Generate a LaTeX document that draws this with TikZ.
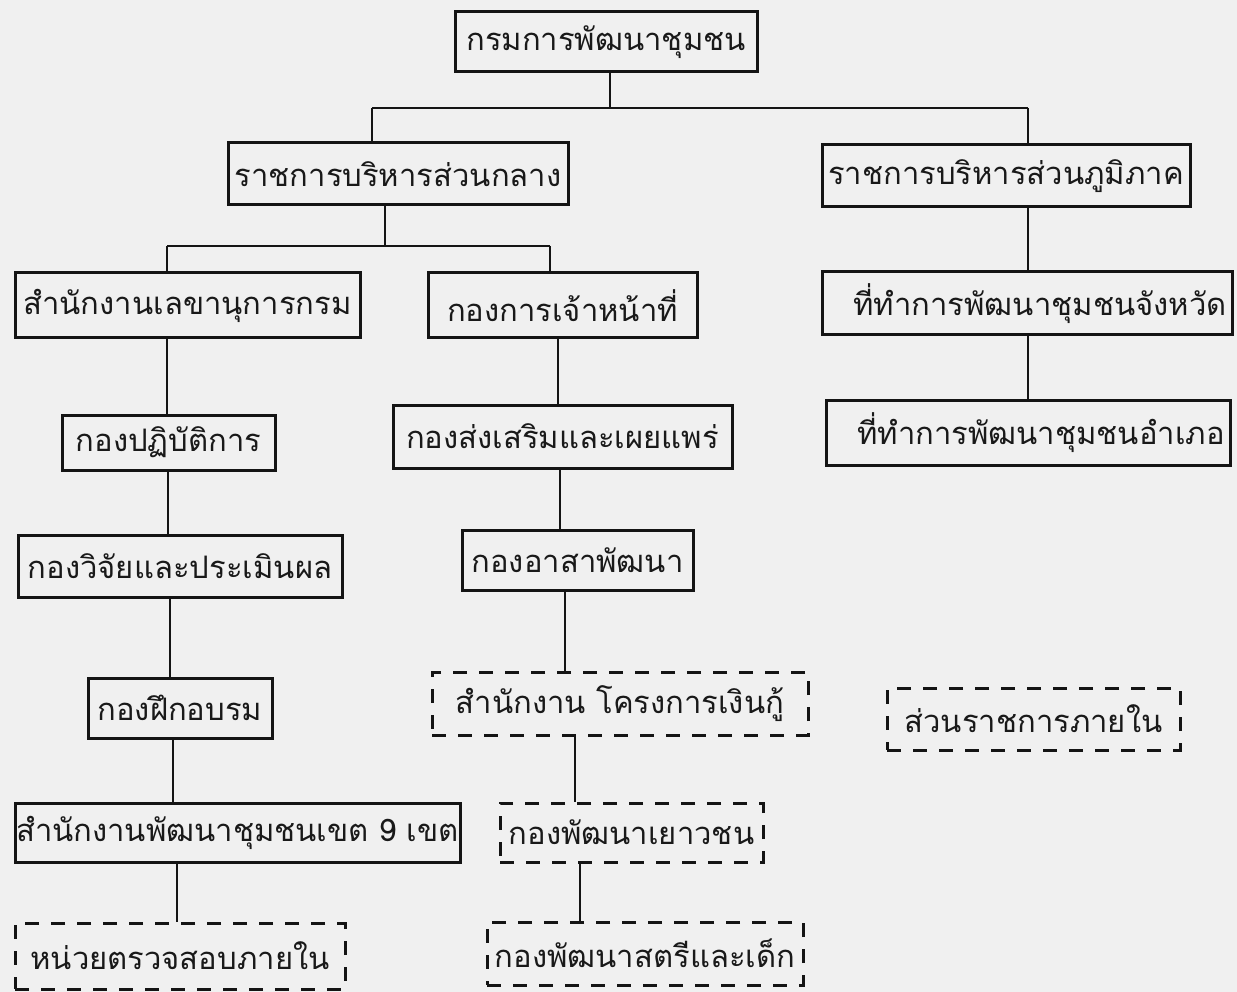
\documentclass[tikz,border=0pt]{standalone}
\usepackage{fontspec}
\newfontfamily\thaifont[Script=Thai]{Loma}
\begin{document}
\begin{tikzpicture}[x=1pt,y=-1pt,
  box/.style={draw=black!92, line width=3pt, inner sep=0pt, text=black!90,
    font=\thaifont\fontsize{31}{37}\selectfont},
  dbox/.style={box, dash pattern=on 14pt off 12pt},
  conn/.style={draw=black!92, line width=2.8pt}]
\fill[black!6] (0,0) rectangle (1237,992);
\useasboundingbox (0,0) rectangle (1237,992);

% level 0
\node[box, minimum width=302pt, minimum height=60pt] (top) at (606,42) {กรมการพัฒนาชุมชน};
% level 1
\node[box, minimum width=340pt, minimum height=62pt] (central) at (398,174) {ราชการบริหารส่วนกลาง};
\node[box, minimum width=368pt, minimum height=62pt] (regional) at (1006,176) {ราชการบริหารส่วนภูมิภาค};
% level 2
\node[box, minimum width=345pt, minimum height=65pt] (sec) at (187.5,305.5) {สำนักงานเลขานุการกรม};
\node[box, minimum width=269pt, minimum height=65pt] (pers) at (562.5,305.5) {กองการเจ้าหน้าที่};
\node[box, minimum width=410pt, minimum height=63pt] (prov) at (1027,303.5) {\hspace{26pt}ที่ทำการพัฒนาชุมชนจังหวัด};
% level 3
\node[box, minimum width=213pt, minimum height=55pt] (ops) at (168.5,442.5) {กองปฏิบัติการ};
\node[box, minimum width=339pt, minimum height=63pt] (prom) at (562.5,436.5) {กองส่งเสริมและเผยแพร่};
\node[box, minimum width=404pt, minimum height=65pt] (dist) at (1028,432.5) {\hspace{26pt}ที่ทำการพัฒนาชุมชนอำเภอ};
% level 4
\node[box, minimum width=324pt, minimum height=62pt] (res) at (180,566) {กองวิจัยและประเมินผล};
\node[box, minimum width=231pt, minimum height=60pt] (vol) at (577.5,560) {กองอาสาพัฒนา};
% level 5
\node[box, minimum width=184pt, minimum height=60pt] (train) at (180,708) {กองฝึกอบรม};
\node[dbox, minimum width=376pt, minimum height=63pt] (loan) at (620,703.5) {สำนักงาน โครงการเงินกู้};
\node[dbox, minimum width=293pt, minimum height=62pt] (internal) at (1033.5,719) {ส่วนราชการภายใน};
% level 6
\node[box, minimum width=445pt, minimum height=59pt] (reg9) at (237.5,832.5) {สำนักงานพัฒนาชุมชนเขต 9 เขต};
\node[dbox, minimum width=263pt, minimum height=59pt] (youth) at (631.5,832.5) {กองพัฒนาเยาวชน};
% level 7
\node[dbox, minimum width=330pt, minimum height=66pt] (audit) at (180,956) {หน่วยตรวจสอบภายใน};
\node[dbox, minimum width=316pt, minimum height=63pt] (women) at (645,953.5) {กองพัฒนาสตรีและเด็ก};

% junctions
\coordinate (j1) at (610,108);
\coordinate (jL) at (372,108);
\coordinate (jR) at (1028,108);
\coordinate (j2) at (385,246);
\coordinate (j2L) at (167,246);
\coordinate (j2R) at (550,246);
% column guides
\coordinate (cL1) at (167,0);
\coordinate (cL2) at (168,0);
\coordinate (cL3) at (170,0);
\coordinate (cL4) at (173,0);
\coordinate (cL5) at (177,0);
\coordinate (cM1) at (558,0);
\coordinate (cM2) at (560,0);
\coordinate (cM3) at (565,0);
\coordinate (cM4) at (575,0);
\coordinate (cM5) at (580,0);
\coordinate (cR) at (1028,0);

\draw[conn] (j1 |- top.south) -- (j1);
\draw[conn] (jL) -- (jR);
\draw[conn] (jL) -- (jL |- central.north);
\draw[conn] (jR) -- (jR |- regional.north);

\draw[conn] (j2 |- central.south) -- (j2);
\draw[conn] (j2L) -- (j2R);
\draw[conn] (j2L) -- (j2L |- sec.north);
\draw[conn] (j2R) -- (j2R |- pers.north);

\draw[conn] (cR |- regional.south) -- (cR |- prov.north);
\draw[conn] (cR |- prov.south) -- (cR |- dist.north);

\draw[conn] (cL1 |- sec.south) -- (cL1 |- ops.north);
\draw[conn] (cL2 |- ops.south) -- (cL2 |- res.north);
\draw[conn] (cL3 |- res.south) -- (cL3 |- train.north);
\draw[conn] (cL4 |- train.south) -- (cL4 |- reg9.north);
\draw[conn] (cL5 |- reg9.south) -- (cL5 |- audit.north);

\draw[conn] (cM1 |- pers.south) -- (cM1 |- prom.north);
\draw[conn] (cM2 |- prom.south) -- (cM2 |- vol.north);
\draw[conn] (cM3 |- vol.south) -- (cM3 |- loan.north);
\draw[conn] (cM4 |- loan.south) -- (cM4 |- youth.north);
\draw[conn] (cM5 |- youth.south) -- (cM5 |- women.north);
\end{tikzpicture}
\end{document}
